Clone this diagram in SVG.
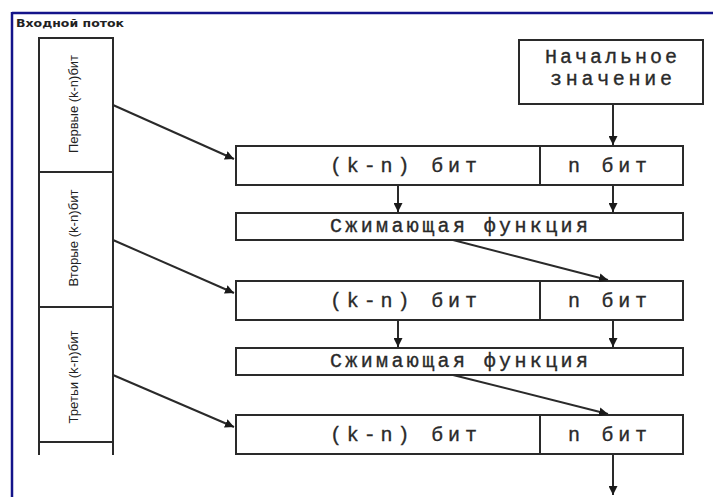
<svg xmlns="http://www.w3.org/2000/svg" width="713" height="497" viewBox="0 0 713 497">
<style>
.box{fill:#fff;stroke:#2a2a2a;stroke-width:2}
.ln{stroke:#2a2a2a;stroke-width:2;fill:none}
.mono{font-family:"Liberation Mono","DejaVu Sans Mono",monospace;font-size:20px;fill:#2a2a2a;stroke:#2a2a2a;stroke-width:0.35}
.side{font-family:"Liberation Sans",Arial,sans-serif;font-size:12.5px;fill:#222}
.title{font-family:"DejaVu Sans","Liberation Sans",sans-serif;font-size:11px;font-weight:bold;fill:#222}
</style>
<defs>
<marker id="ah" viewBox="0 0 10 10" refX="10" refY="5" markerWidth="9" markerHeight="9" markerUnits="userSpaceOnUse" orient="auto">
<path d="M0,0 L10,5 L0,10 z" fill="#1a1a1a"/>
</marker>
</defs>
<rect x="0" y="0" width="713" height="497" fill="#fff"/>
<g id="frame">
<line x1="12" y1="13" x2="713" y2="13" stroke="#14148a" stroke-width="2.5"/>
<line x1="12" y1="12" x2="12" y2="497" stroke="#14148a" stroke-width="2.5"/>
<text class="title" x="16" y="27" textLength="108" lengthAdjust="spacingAndGlyphs">Входной поток</text>
</g>
<g id="input-stream">
<line class="ln" x1="39" y1="38" x2="39" y2="455"/>
<line class="ln" x1="113" y1="38" x2="113" y2="455"/>
<line class="ln" x1="38" y1="38" x2="114" y2="38"/>
<line class="ln" x1="38" y1="172" x2="114" y2="172"/>
<line class="ln" x1="38" y1="307" x2="114" y2="307"/>
<line class="ln" x1="38" y1="442" x2="114" y2="442"/>
<text class="side" transform="translate(78,104) rotate(-90)" text-anchor="middle" textLength="98" lengthAdjust="spacingAndGlyphs">Первые (k-n)бит</text>
<text class="side" transform="translate(78,238) rotate(-90)" text-anchor="middle" textLength="97" lengthAdjust="spacingAndGlyphs">Вторые (k-n)бит</text>
<text class="side" transform="translate(78,377) rotate(-90)" text-anchor="middle" textLength="93" lengthAdjust="spacingAndGlyphs">Третьи (k-n)бит</text>
</g>
<g id="init">
<rect class="box" x="519" y="40" width="184" height="64"/>
<text class="mono" x="545" y="63" textLength="132" lengthAdjust="spacing">Начальное</text>
<text class="mono" x="550" y="85" textLength="122" lengthAdjust="spacing">значение</text>
</g>
<g id="row1">
<rect class="box" x="236" y="146" width="447" height="39"/>
<line class="ln" x1="540" y1="146" x2="540" y2="185"/>
<text class="mono" x="330" y="172" textLength="147" lengthAdjust="spacing">(k-n) бит</text>
<text class="mono" x="568" y="172" textLength="79" lengthAdjust="spacing">n бит</text>
</g>
<g id="comp1">
<rect class="box" x="236" y="213" width="447" height="27"/>
<text class="mono" x="330" y="232" textLength="258" lengthAdjust="spacing">Сжимающая функция</text>
</g>
<g id="row2">
<rect class="box" x="236" y="281" width="447" height="39"/>
<line class="ln" x1="540" y1="281" x2="540" y2="320"/>
<text class="mono" x="330" y="307" textLength="147" lengthAdjust="spacing">(k-n) бит</text>
<text class="mono" x="568" y="307" textLength="79" lengthAdjust="spacing">n бит</text>
</g>
<g id="comp2">
<rect class="box" x="236" y="348" width="447" height="27"/>
<text class="mono" x="330" y="367" textLength="258" lengthAdjust="spacing">Сжимающая функция</text>
</g>
<g id="row3">
<rect class="box" x="236" y="415" width="447" height="39"/>
<line class="ln" x1="540" y1="415" x2="540" y2="454"/>
<text class="mono" x="330" y="441" textLength="147" lengthAdjust="spacing">(k-n) бит</text>
<text class="mono" x="568" y="441" textLength="79" lengthAdjust="spacing">n бит</text>
</g>
<g id="connectors">
<line class="ln" x1="113" y1="105" x2="234" y2="159" marker-end="url(#ah)"/>
<line class="ln" x1="113" y1="240" x2="234" y2="293" marker-end="url(#ah)"/>
<line class="ln" x1="113" y1="375" x2="234" y2="427" marker-end="url(#ah)"/>
<line class="ln" x1="613" y1="104" x2="613" y2="145" marker-end="url(#ah)"/>
<line class="ln" x1="398" y1="185" x2="398" y2="212" marker-end="url(#ah)"/>
<line class="ln" x1="613" y1="185" x2="613" y2="212" marker-end="url(#ah)"/>
<line class="ln" x1="453" y1="240" x2="608" y2="280" marker-end="url(#ah)"/>
<line class="ln" x1="398" y1="320" x2="398" y2="347" marker-end="url(#ah)"/>
<line class="ln" x1="613" y1="320" x2="613" y2="347" marker-end="url(#ah)"/>
<line class="ln" x1="453" y1="375" x2="608" y2="414" marker-end="url(#ah)"/>
<line class="ln" x1="613" y1="454" x2="613" y2="495" marker-end="url(#ah)"/>
</g>
</svg>
